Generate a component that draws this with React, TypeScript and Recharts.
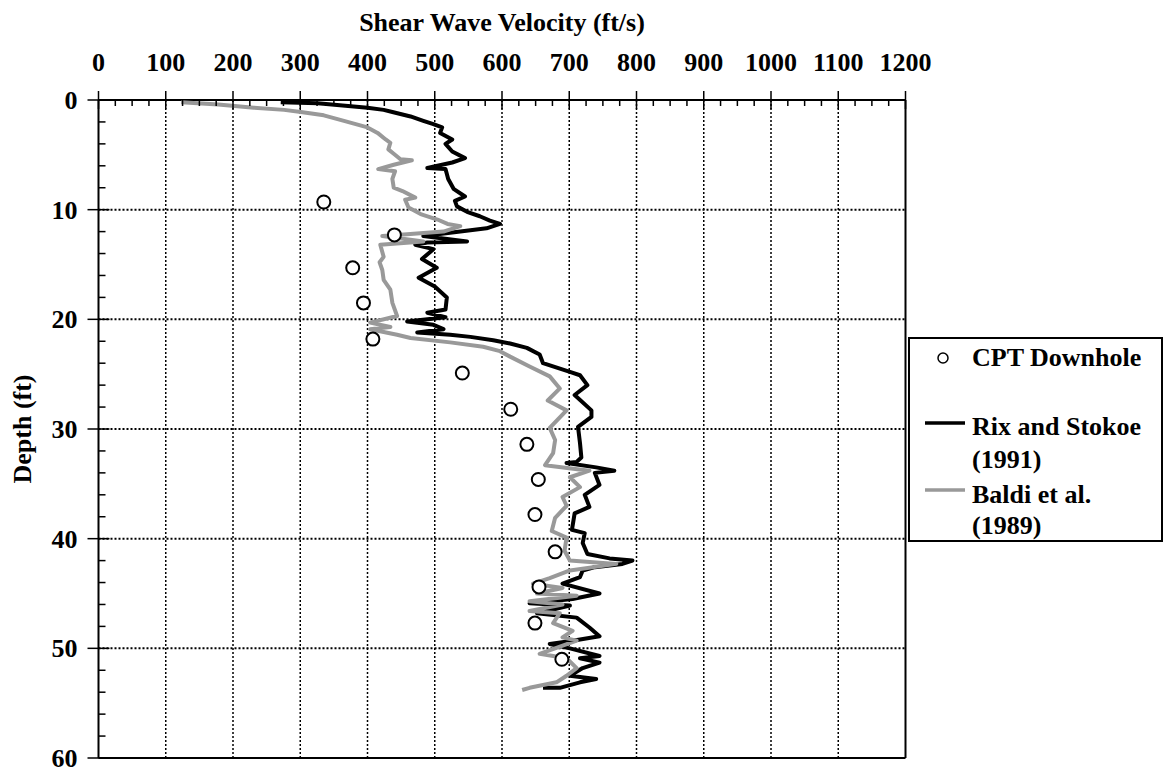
import { ScatterChart, Scatter, XAxis, YAxis, ReferenceLine, Legend } from "recharts";

// [velocity ft/s, depth ft]
const rixStokoe = [
  [271, 0.2], [326, 0.3], [400, 0.7], [424, 0.9], [437, 1.1], [464, 1.5], [483, 1.9], [498, 2.2],
  [511, 2.5], [508, 3.0], [526, 3.6], [516, 4.0], [526, 4.7], [545, 5.3], [526, 5.7], [489, 6.2],
  [516, 6.3], [520, 7.2], [528, 8.1], [545, 8.8], [530, 9.2], [533, 9.7], [548, 10.2], [567, 10.6],
  [582, 11.0], [597, 11.3], [577, 11.7], [538, 12.0], [483, 12.4], [548, 12.9], [489, 13.0], [471, 13.2],
  [498, 13.6], [481, 14.5], [503, 15.3], [476, 16.2], [500, 17.0], [518, 18.0], [516, 19.1], [489, 19.4],
  [516, 19.8], [459, 20.2], [498, 20.5], [513, 20.9], [474, 21.2], [523, 21.4], [553, 21.6], [587, 21.9],
  [612, 22.2], [637, 22.6], [656, 23.2], [661, 24.0], [701, 24.8], [716, 25.1], [727, 26.0], [708, 26.9],
  [733, 28.3], [733, 28.9], [713, 29.8], [716, 31.3], [718, 32.6], [711, 33.0], [696, 33.1], [740, 33.5],
  [767, 33.8], [738, 34.0], [745, 35.1], [723, 36.0], [730, 37.1], [708, 37.7], [704, 39.2], [723, 39.5],
  [720, 40.4], [727, 41.4], [760, 41.8], [794, 42.0], [779, 42.3], [738, 42.6], [720, 42.9], [716, 43.5],
  [690, 44.1], [745, 45.0], [705, 45.5], [641, 45.9], [701, 46.1], [652, 46.8], [711, 47.2], [730, 48.1],
  [745, 48.9], [705, 49.3], [671, 49.6], [701, 50.0], [745, 50.7], [716, 50.9], [745, 51.3], [720, 51.8],
  [701, 52.5], [740, 52.8], [716, 53.1], [686, 53.6], [661, 53.6],
];

const baldi = [
  [123, 0.2], [178, 0.4], [231, 0.7], [276, 0.9], [301, 1.1], [335, 1.4], [365, 1.9], [400, 2.5],
  [415, 3.0], [427, 3.6], [434, 3.9], [431, 4.5], [439, 4.9], [449, 5.4], [466, 5.5], [439, 5.9],
  [416, 6.3], [441, 6.5], [437, 7.2], [439, 8.0], [452, 8.3], [471, 8.9], [456, 9.1], [461, 9.8],
  [479, 10.4], [504, 10.9], [519, 11.3], [538, 11.5], [513, 12.0], [444, 12.3], [422, 12.4], [483, 12.9],
  [419, 13.2], [424, 14.3], [418, 14.8], [422, 15.5], [424, 16.4], [434, 17.3], [437, 18.5], [444, 19.7],
  [404, 20.3], [434, 20.7], [404, 20.9], [444, 21.4], [464, 21.7], [523, 22.1], [572, 22.5], [597, 22.9],
  [612, 23.4], [641, 24.3], [671, 25.2], [686, 26.3], [668, 27.4], [696, 28.3], [671, 29.9], [679, 31.0],
  [676, 32.2], [664, 33.3], [730, 33.8], [701, 34.4], [716, 35.3], [690, 36.2], [696, 37.0], [679, 38.1],
  [674, 39.3], [696, 39.9], [693, 41.1], [701, 42.0], [770, 42.3], [701, 42.9], [671, 43.6], [646, 44.1],
  [690, 44.5], [652, 45.0], [711, 45.2], [641, 45.7], [690, 46.0], [641, 46.6], [686, 46.8], [676, 47.7],
  [705, 48.4], [690, 49.0], [711, 49.3], [656, 50.5], [696, 50.9], [711, 51.8], [696, 52.5], [681, 53.1],
  [641, 53.6], [630, 53.8],
];

const cptDownhole = [
  [335, 9.3], [440, 12.3], [378, 15.3], [394, 18.5], [408, 21.8], [541, 24.9], [613, 28.2],
  [637, 31.4], [654, 34.6], [649, 37.8], [679, 41.2], [655, 44.4], [649, 47.7], [689, 51.0],
];

const velTicks = Array.from({ length: 49 }, (_, i) => i * 25);
const depthTicks = Array.from({ length: 31 }, (_, i) => i * 2);
const velGrid = [100, 200, 300, 400, 500, 600, 700, 800, 900, 1000, 1100];
const depthGrid = [10, 20, 30, 40, 50];

const toPts = (arr: number[][]) => arr.map(([v, d]) => ({ v, d }));

const FONT = "'Liberation Serif', 'Times New Roman', serif";
const GRAY = "#999999";

const TopTick = (props: any) => {
  const { x, y, payload } = props;
  const major = payload.value % 100 === 0;
  return (
    <g>
      <line x1={x} x2={x} y1={major ? y - 9 : y} y2={y + (major ? 9 : 6)} stroke="#000" strokeWidth={1.5} />
      {major && (
        <text x={x} y={y - 29} textAnchor="middle" fontFamily={FONT} fontWeight="bold" fontSize={26} fill="#000">
          {payload.value}
        </text>
      )}
    </g>
  );
};

const LeftTick = (props: any) => {
  const { x, y, payload } = props;
  const major = payload.value % 10 === 0;
  return (
    <g>
      <line x1={major ? x - 11 : x} x2={x + (major ? 11 : 7)} y1={y} y2={y} stroke="#000" strokeWidth={1.5} />
      {major && (
        <text x={x - 21} y={y + 9} textAnchor="end" fontFamily={FONT} fontWeight="bold" fontSize={26} fill="#000">
          {payload.value}
        </text>
      )}
    </g>
  );
};

const legendText = {
  position: "absolute" as const,
  left: 62,
  fontFamily: FONT,
  fontWeight: "bold" as const,
  fontSize: 26,
  lineHeight: "30px",
  whiteSpace: "nowrap" as const,
  color: "#000",
};

const renderLegend = () => (
  <div style={{ position: "relative", width: 255, height: 205, border: "2px solid #000", boxSizing: "border-box", background: "#fff" }}>
    <svg width={60} height={200} style={{ position: "absolute", left: 0, top: 0 }}>
      <circle cx={33} cy={19} r={5} fill="#fff" stroke="#000" strokeWidth={1.5} />
      <line x1={15} x2={55} y1={84} y2={84} stroke="#000" strokeWidth={3.5} />
      <line x1={15} x2={55} y1={151} y2={151} stroke={GRAY} strokeWidth={3.5} />
    </svg>
    <div style={{ ...legendText, top: 4 }}>CPT Downhole</div>
    <div style={{ ...legendText, top: 73 }}>Rix and Stokoe</div>
    <div style={{ ...legendText, top: 106 }}>(1991)</div>
    <div style={{ ...legendText, top: 141 }}>Baldi et al.</div>
    <div style={{ ...legendText, top: 172 }}>(1989)</div>
  </div>
);

function App() {
  return (
    <div style={{ position: "absolute", left: 0, top: 0 }}>
      <ScatterChart width={1163} height={773} margin={{ top: 40, left: 38.5, right: 257.5, bottom: 15 }}>
        <XAxis
          type="number"
          dataKey="v"
          orientation="top"
          domain={[0, 1200]}
          ticks={velTicks}
          interval={0}
          height={60}
          tickSize={0}
          tickMargin={0}
          tickLine={false}
          tick={<TopTick />}
          axisLine={{ stroke: "#000", strokeWidth: 2 }}
          label={{
            value: "Shear Wave Velocity (ft/s)",
            content: (p: any) => {
              const vb = p.viewBox;
              return (
                <text x={vb.x + vb.width / 2} y={vb.y - 9} textAnchor="middle"
                  fontFamily={FONT} fontWeight="bold" fontSize={26} fill="#000">
                  Shear Wave Velocity (ft/s)
                </text>
              );
            },
          }}
        />
        <YAxis
          type="number"
          dataKey="d"
          reversed
          domain={[0, 60]}
          ticks={depthTicks}
          interval={0}
          width={60}
          tickSize={0}
          tickMargin={0}
          tickLine={false}
          tick={<LeftTick />}
          axisLine={{ stroke: "#000", strokeWidth: 2 }}
          label={{
            value: "Depth (ft)",
            content: (p: any) => {
              const vb = p.viewBox;
              const cx = vb.x + vb.width - 76;
              const cy = vb.y + vb.height / 2;
              return (
                <text x={cx} y={cy} transform={`rotate(-90 ${cx} ${cy})`} textAnchor="middle" dominantBaseline="central"
                  fontFamily={FONT} fontWeight="bold" fontSize={26} fill="#000">
                  Depth (ft)
                </text>
              );
            },
          }}
        />
        {velGrid.map((v) => (
          <ReferenceLine key={`vx${v}`} x={v} stroke="#000" strokeWidth={1.5} strokeDasharray="2 2" />
        ))}
        {depthGrid.map((d) => (
          <ReferenceLine key={`hy${d}`} y={d} stroke="#000" strokeWidth={2} strokeDasharray="2 2" />
        ))}
        <ReferenceLine x={1200} stroke="#000" strokeWidth={2} />
        <ReferenceLine y={60} stroke="#000" strokeWidth={2} />
        <Scatter
          name="Rix and Stokoe (1991)"
          data={toPts(rixStokoe)}
          fill="#000"
          line={{ stroke: "#000", strokeWidth: 4, strokeLinejoin: "round" }}
          shape={() => <g />}
          isAnimationActive={false}
        />
        <Scatter
          name="Baldi et al. (1989)"
          data={toPts(baldi)}
          fill={GRAY}
          line={{ stroke: GRAY, strokeWidth: 4, strokeLinejoin: "round" }}
          shape={() => <g />}
          isAnimationActive={false}
        />
        <Scatter
          name="CPT Downhole"
          data={toPts(cptDownhole)}
          fill="#fff"
          shape={(p: any) => <circle cx={p.cx} cy={p.cy} r={6.5} fill="#fff" stroke="#000" strokeWidth={2} />}
          isAnimationActive={false}
        />
        <Legend
          layout="vertical"
          align="center"
          verticalAlign="middle"
          content={renderLegend}
          wrapperStyle={{ left: 908, top: 337, width: 255, height: 205 }}
        />
      </ScatterChart>
    </div>
  );
}

export default App;
